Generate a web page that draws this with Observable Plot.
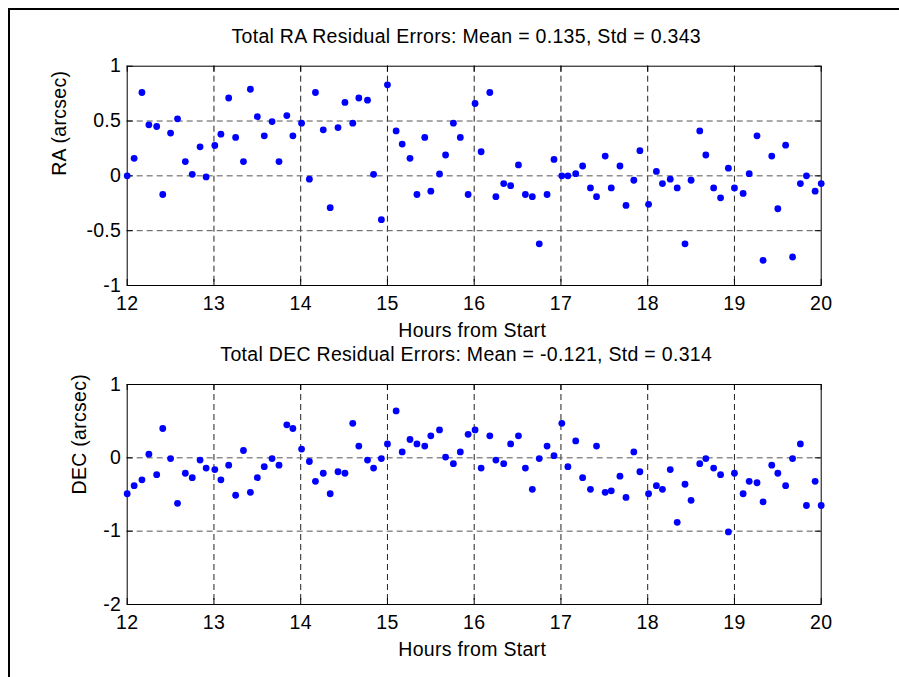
<!DOCTYPE html>
<html>
<head>
<meta charset="utf-8">
<script src="https://cdn.jsdelivr.net/npm/d3@7"></script>
<script src="https://cdn.jsdelivr.net/npm/@observablehq/plot@0.6"></script>
<style>
  html, body { margin: 0; padding: 0; background: #fff; overflow: hidden; }
  #fig { position: relative; width: 899px; height: 677px; overflow: hidden; }
  #border { position: absolute; left: 8px; top: 8px; width: 1200px; height: 1200px;
            border-left: 2px solid #000; border-top: 2px solid #000; }
  .panel { position: absolute; left: 0; }
</style>
</head>
<body>
<div id="fig"><div id="border"></div></div>
<script>
// Observation times (hours from start), one sample every ~5 minutes
const hours = [
  12.00, 12.08, 12.17, 12.25, 12.34, 12.41, 12.50, 12.58, 12.67, 12.75, 12.84, 12.91,
  13.01, 13.08, 13.17, 13.25, 13.34, 13.42, 13.50, 13.58, 13.67, 13.75, 13.84, 13.91,
  14.01, 14.10, 14.17, 14.26, 14.34, 14.43, 14.51, 14.60, 14.67, 14.77, 14.84, 14.93,
  15.00, 15.10, 15.17, 15.26, 15.34, 15.43, 15.50, 15.60, 15.67, 15.76, 15.84, 15.93,
  16.01, 16.08, 16.18, 16.25, 16.34, 16.42, 16.51, 16.59, 16.67, 16.75, 16.84, 16.92,
  17.01, 17.08, 17.17, 17.25, 17.34, 17.41, 17.51, 17.58, 17.68, 17.75, 17.84, 17.91,
  18.01, 18.10, 18.17, 18.26, 18.34, 18.43, 18.50, 18.60, 18.67, 18.76, 18.84, 18.93,
  19.00, 19.10, 19.17, 19.26, 19.33, 19.43, 19.50, 19.59, 19.67, 19.76, 19.83, 19.93,
  20.00
];

// RA residuals (arcsec)
const raResidual = [
  0.00, 0.16, 0.76, 0.465, 0.45, -0.17, 0.39, 0.52, 0.13, 0.014, 0.265, -0.01,
  0.277, 0.38, 0.71, 0.35, 0.13, 0.79, 0.54, 0.365, 0.495, 0.13, 0.55, 0.365,
  0.48, -0.03, 0.76, 0.42, -0.29, 0.44, 0.67, 0.48, 0.71, 0.69, 0.014, -0.40,
  0.83, 0.41, 0.29, 0.16, -0.17, 0.35, -0.14, 0.017, 0.19, 0.48, 0.35, -0.17,
  0.66, 0.22, 0.76, -0.19, -0.07, -0.09, 0.10, -0.17, -0.19, -0.62, -0.17, 0.15,
  0.00, 0.00, 0.02, 0.09, -0.11, -0.19, 0.18, -0.11, 0.09, -0.27, -0.04, 0.23,
  -0.26, 0.04, -0.07, -0.03, -0.11, -0.62, -0.04, 0.41, 0.19, -0.11, -0.20, 0.07,
  -0.11, -0.16, 0.02, 0.365, -0.77, 0.18, -0.30, 0.28, -0.74, -0.07, 0.00, -0.14,
  -0.07
];

// DEC residuals (arcsec)
const decResidual = [
  -0.49, -0.38, -0.30, 0.05, -0.23, 0.40, -0.01, -0.62, -0.21, -0.27, -0.03, -0.14,
  -0.16, -0.30, -0.10, -0.51, 0.10, -0.47, -0.27, -0.12, -0.01, -0.10, 0.45, 0.40,
  0.12, -0.05, -0.32, -0.21, -0.49, -0.19, -0.21, 0.47, 0.16, -0.03, -0.14, -0.01,
  0.19, 0.64, 0.08, 0.25, 0.19, 0.16, 0.30, 0.38, 0.01, -0.08, 0.08, 0.32,
  0.38, -0.14, 0.30, -0.03, -0.08, 0.19, 0.30, -0.14, -0.43, -0.01, 0.16, 0.03,
  0.47, -0.12, 0.23, -0.27, -0.43, 0.16, -0.47, -0.45, -0.25, -0.54, 0.08, -0.19,
  -0.49, -0.38, -0.43, -0.16, -0.88, -0.36, -0.58, -0.08, -0.01, -0.14, -0.23, -1.01,
  -0.21, -0.49, -0.32, -0.34, -0.60, -0.10, -0.21, -0.38, -0.01, 0.19, -0.65, -0.32,
  -0.65
];

// Axis ticks and texts
const hourTicks = [12, 13, 14, 15, 16, 17, 18, 19, 20];
const raTicks = [-1, -0.5, 0, 0.5, 1];
const decTicks = [-2, -1, 0, 1];
const xLabel = "Hours from Start";
const raTitle = "Total RA Residual Errors: Mean = 0.135, Std = 0.343";
const decTitle = "Total DEC Residual Errors: Mean = -0.121, Std = 0.314";
const raLabel = "RA (arcsec)";
const decLabel = "DEC (arcsec)";

const FONT = "'Liberation Sans', Arial, Helvetica, sans-serif";

function panel({values, yDomain, yTicks, title, ylabel, top, height, marginTop, marginBottom, ylabelDx}) {
  const W = 899, mL = 126.7, mR = 78.3;
  const frameW = W - mL - mR;
  const frameH = height - marginTop - marginBottom;
  const tick = 6;
  const pts = hours.map((h, i) => ({h, v: values[i]}));
  const svg = Plot.plot({
    width: W,
    height,
    marginLeft: mL,
    marginRight: mR,
    marginTop,
    marginBottom,
    style: {background: "transparent", fontFamily: FONT, fontSize: "19.5px", color: "#000", overflow: "visible", letterSpacing: "0.3px"},
    x: {domain: [12, 20], axis: null},
    y: {domain: yDomain, axis: null},
    marks: [
      // dashed grid at interior ticks
      Plot.ruleX(hourTicks.slice(1, -1), {stroke: "#222", strokeWidth: 1, strokeDasharray: "6,4"}),
      Plot.ruleY(yTicks.slice(1, -1), {stroke: "#555", strokeWidth: 1, strokeDasharray: "6,4"}),
      // inward tick marks on all four sides
      Plot.ruleX(hourTicks, {stroke: "#000", insetTop: frameH - tick}),
      Plot.ruleX(hourTicks, {stroke: "#000", insetBottom: frameH - tick}),
      Plot.ruleY(yTicks, {stroke: "#000", insetRight: frameW - tick}),
      Plot.ruleY(yTicks, {stroke: "#000", insetLeft: frameW - tick}),
      Plot.frame({stroke: "#000", strokeWidth: 1}),
      Plot.dot(pts, {x: "h", y: "v", r: 3.4, fill: "#0000ff", stroke: null}),
      Plot.axisX({ticks: hourTicks, tickSize: 0, tickPadding: 11, tickFormat: d => String(d), label: null}),
      Plot.axisY({ticks: yTicks, tickSize: 0, tickPadding: 6, tickFormat: d => String(d), label: null}),
      Plot.text([title], {text: d => d, frameAnchor: "top", lineAnchor: "bottom", dy: -23.4, dx: -8}),
      Plot.text([xLabel], {text: d => d, frameAnchor: "bottom", lineAnchor: "bottom", dy: 51.7, dx: -2}),
      Plot.text([ylabel], {text: d => d, frameAnchor: "left", lineAnchor: "bottom", rotate: -90, dx: ylabelDx})
    ]
  });
  svg.classList.add("panel");
  svg.style.top = top + "px";
  document.getElementById("fig").appendChild(svg);
}

panel({values: raResidual, yDomain: [-1, 1], yTicks: raTicks, title: raTitle, ylabel: raLabel,
       top: 0, height: 340, marginTop: 65.7, marginBottom: 55, ylabelDx: -61.7});
panel({values: decResidual, yDomain: [-2, 1], yTicks: decTicks, title: decTitle, ylabel: decLabel,
       top: 340, height: 337, marginTop: 44, marginBottom: 73, ylabelDx: -41.7});
</script>
</body>
</html>
